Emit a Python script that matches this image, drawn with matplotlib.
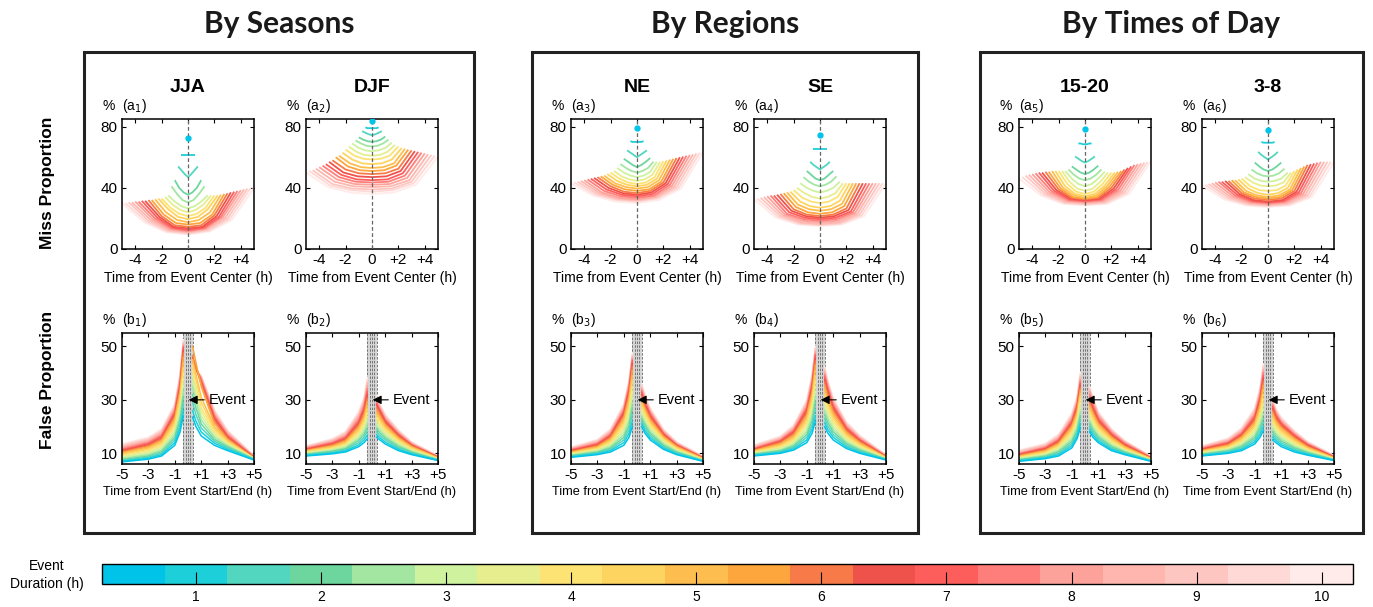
import numpy as np
import matplotlib
matplotlib.use('Agg')
import matplotlib.pyplot as plt
from matplotlib.colors import ListedColormap, BoundaryNorm
from matplotlib.patches import Rectangle
import matplotlib.colorbar as mcb

plt.rcParams['font.family'] = ['Liberation Sans', 'DejaVu Sans']

W, H = 1373, 607

# event durations (h) and their colours
durations = [0.5, 1, 1.5, 2, 2.5, 3, 3.5, 4, 4.5, 5,
             5.5, 6, 6.5, 7, 7.5, 8, 8.5, 9, 9.5, 10]
colors = ['#00c3ea', '#1ccfd9', '#52d6c0', '#6dd69e', '#a2e6a2',
          '#cef29e', '#e6ee8e', '#fde374', '#fed461', '#fdbe4f',
          '#fca63d', '#f77a48', '#ef524b', '#fd5e5c', '#fd7e7a',
          '#fda29b', '#feb6ae', '#fec6c1', '#fed9d5', '#ffebe9']

# miss curves: values at fractions of the half-duration
miss_frac = [-1, -2/3, -1/3, 0, 1/3, 2/3, 1]
# false curves: hours before event start / after event end
before_t = [-5, -3, -2, -1, -0.6, -0.35]
after_t = [0.35, 0.6, 1, 2, 3, 5]

miss_jja = [
    [72.5, 72.5, 72.5, 72.5, 72.5, 72.5, 72.5],
    [61.5, 61.5, 61.5, 61.5, 61.5, 61.5, 61.5],
    [54, 51.5, 49, 47, 49, 51.5, 54],
    [45, 40, 37, 35.5, 37, 40, 45],
    [41, 36, 32, 30.5, 32, 36, 41],
    [35, 31, 28, 26.5, 28, 31, 35],
    [34, 29, 25.5, 24, 25.5, 29, 35],
    [33, 27, 23, 21.5, 23, 27, 35],
    [33, 26, 21, 19.5, 21, 26, 35],
    [32.5, 24, 19, 17.5, 19, 24, 35.5],
    [32, 22.5, 17, 16, 17, 22.5, 36],
    [32, 21.5, 15.5, 14.5, 15.5, 22, 36.5],
    [31.5, 21, 14.5, 13.5, 14.5, 21.5, 37],
    [31.5, 20.5, 14, 12.5, 14, 21, 37.5],
    [31, 20, 13.5, 12, 13.5, 21, 38],
    [31, 19.5, 13, 11.5, 13.5, 21, 38.5],
    [30.5, 19, 12.5, 11, 13, 20.5, 39],
    [30.5, 18.5, 12, 10.5, 12.5, 20, 39.5],
    [30, 18, 11.5, 10, 12, 19.5, 40],
    [30, 17.5, 11, 9.5, 11.5, 19, 40],
]
miss_djf = [
    [83.5, 83.5, 83.5, 83.5, 83.5, 83.5, 83.5],
    [79.5, 79, 79, 79, 79, 79, 79.5],
    [77, 76, 75, 74.5, 75, 76, 77],
    [73, 71.5, 70.5, 70, 70.5, 71.5, 73.5],
    [71, 69, 67.5, 67, 67.5, 69, 71.5],
    [69, 66, 64.5, 64, 64.5, 66, 69.5],
    [67, 63.5, 61.5, 61, 61.5, 63.5, 68],
    [65, 61, 59, 58.5, 59, 61, 67],
    [63, 58.5, 56, 55.5, 56, 58.5, 66],
    [61, 56, 53.5, 53, 53.5, 56, 65.5],
    [60, 54, 51.5, 51, 51.5, 54.5, 65],
    [58, 52, 49.5, 49, 49.5, 52.5, 64.5],
    [57, 50, 47.5, 47, 47.5, 51, 64],
    [55.5, 48.5, 45.5, 45, 45.5, 49.5, 63.5],
    [54.5, 47, 44, 43.5, 44, 48, 63],
    [53.5, 45.5, 42.5, 42, 42.5, 46.5, 62.5],
    [52.5, 44, 41, 40.5, 41, 45, 62],
    [51.5, 42.5, 39.5, 39, 39.5, 44, 61.5],
    [51, 41.5, 38.5, 37.5, 38.5, 43, 61],
    [50, 40.5, 37, 36, 37, 42, 60.5],
]
miss_ne = [
    [79, 79, 79, 79, 79, 79, 79],
    [70.5, 70, 70, 70, 70, 70, 70.5],
    [64.5, 63, 61.5, 60, 61.5, 63, 64.5],
    [59, 57, 55, 53.5, 55, 57, 59.5],
    [55.5, 53, 51, 50, 51, 53, 57],
    [53, 50, 48, 47, 48, 50.5, 57],
    [51, 47.5, 45.5, 44.5, 45.5, 48.5, 57],
    [50, 46, 43.5, 42.5, 43.5, 47, 57.5],
    [49, 44.5, 42, 41, 42, 46, 58],
    [48, 43, 40.5, 39.5, 40.5, 45, 58.5],
    [47.5, 42, 39, 38, 39, 44, 59],
    [47, 41, 37.5, 36.5, 38, 43.5, 59.5],
    [46.5, 40, 36.5, 35.5, 37, 43, 60],
    [46, 39, 35.5, 34.5, 36, 42.5, 60.5],
    [45.5, 38, 34.5, 33.5, 35, 42, 61],
    [45, 37, 33.5, 32.5, 34.5, 41.5, 61.5],
    [44.5, 36.5, 33, 32, 34, 41, 62],
    [44, 36, 32.5, 31.5, 33.5, 40.5, 62.5],
    [43.5, 35.5, 32, 31, 33, 40, 63],
    [43, 35, 31, 30, 32, 39.5, 63.5],
]
miss_se = [
    [74.5, 74.5, 74.5, 74.5, 74.5, 74.5, 74.5],
    [65.5, 65.5, 65.5, 65.5, 65.5, 65.5, 65.5],
    [57, 55, 53.5, 52, 53.5, 55, 57],
    [51, 48.5, 46, 45, 46, 48.5, 51],
    [47, 44, 42, 41, 42, 44, 47.5],
    [43, 40, 38, 37, 38, 40, 44],
    [40, 36.5, 34, 33, 34, 36.5, 43],
    [38.5, 33.5, 31, 30, 31, 34, 43],
    [37.5, 31, 28, 27, 28, 31.5, 43],
    [37, 29, 26, 25, 26, 29.5, 43],
    [36.5, 27.5, 24, 23, 24, 28, 43],
    [36, 26, 22.5, 21.5, 22.5, 26.5, 43],
    [35.5, 25, 21.5, 20.5, 21.5, 25.5, 43],
    [35, 24, 20.5, 19.5, 20.5, 24.5, 43],
    [35, 23, 19.5, 18.5, 19.5, 24, 43],
    [34.5, 22.5, 18.5, 17.5, 18.5, 23.5, 43],
    [34, 22, 17.5, 16.5, 17.5, 23, 43],
    [33.5, 21.5, 17, 16, 17, 22.5, 43],
    [33, 21, 16.5, 15.5, 16.5, 22, 43],
    [32.5, 20.5, 16, 15, 16, 21.5, 43],
]
miss_1520 = [
    [78.5, 78.5, 78.5, 78.5, 78.5, 78.5, 78.5],
    [69, 69, 68.5, 68.5, 68.5, 69, 69],
    [60.5, 59, 57.5, 56.5, 57.5, 59, 60.5],
    [54, 52, 50, 49, 50, 52, 54.5],
    [52, 48.5, 46, 45, 46, 48.5, 52],
    [51, 46, 42.5, 41, 42.5, 46, 50.5],
    [51, 44, 39.5, 38, 39.5, 44, 50],
    [51, 42.5, 37.5, 36, 37.5, 42.5, 50],
    [51, 41, 36, 34.5, 36, 41.5, 50],
    [51, 40, 35, 33.5, 35, 41, 50.5],
    [50.5, 39.5, 34, 33, 34, 40.5, 51],
    [50.5, 39, 33.5, 32.5, 33.5, 40, 52],
    [50, 38.5, 33, 32, 33, 39.5, 53],
    [50, 38, 32.5, 31.5, 32.5, 39, 54],
    [49.5, 37.5, 32, 31, 32, 38.5, 55],
    [49, 37, 31.5, 30.5, 31.5, 38, 55.5],
    [48.5, 36.5, 31, 30, 31, 37.5, 56],
    [48, 36, 30.5, 29.5, 30.5, 37, 56.5],
    [47, 35.5, 30, 29, 30, 36.5, 57],
    [46, 35, 29.5, 28.5, 29.5, 36, 57.5],
]
miss_38 = [
    [77.5, 77.5, 77.5, 77.5, 77.5, 77.5, 77.5],
    [70, 69.5, 69.5, 69.5, 69.5, 69.5, 70],
    [63.5, 61.5, 60, 58.5, 60, 61.5, 63.5],
    [56.5, 54, 52, 51, 52, 54, 56.5],
    [52, 49.5, 48, 47.5, 48, 49.5, 52.5],
    [49, 46, 44.5, 44, 44.5, 46, 50],
    [47, 43.5, 41.5, 41, 41.5, 43.5, 50],
    [46, 41, 38.5, 38, 38.5, 41.5, 51],
    [45.5, 39.5, 36.5, 35.5, 36.5, 40, 52],
    [45, 38, 35, 34, 35, 39, 53],
    [45, 37, 34, 33, 34, 38.5, 54],
    [44.5, 36.5, 33, 32, 33, 38, 55],
    [44.5, 36, 32, 31, 32, 37.5, 55.5],
    [44, 35.5, 31.5, 30.5, 31.5, 37, 56],
    [44, 35, 31, 30, 31, 36.5, 56.5],
    [43.5, 34.5, 30.5, 29.5, 30.5, 36, 57],
    [43, 34, 30, 29, 30, 35.5, 57],
    [42.5, 33.5, 29.5, 28.5, 29.5, 35, 57],
    [42, 33, 29, 28, 29, 34.5, 57],
    [41.5, 32.5, 28.5, 27.5, 28.5, 34, 57],
]

false_jja_before = [
    [6.8, 7.8, 9.0, 13.0, 18.0, 24.0],
    [7.0, 8.2, 9.5, 14.0, 19.5, 26.0],
    [7.3, 8.6, 10.0, 15.0, 21.0, 28.5],
    [7.6, 9.0, 10.6, 16.0, 22.5, 31.0],
    [8.0, 9.5, 11.2, 17.0, 24.0, 33.0],
    [8.4, 10.0, 11.8, 18.0, 25.5, 35.5],
    [8.8, 10.5, 12.4, 19.0, 27.0, 38.0],
    [9.2, 11.0, 13.0, 20.0, 28.5, 40.0],
    [9.6, 11.5, 13.6, 21.0, 30.0, 42.0],
    [10.0, 12.0, 14.2, 22.0, 31.5, 44.0],
    [10.3, 12.4, 14.8, 23.0, 33.0, 46.0],
    [10.6, 12.8, 15.3, 23.8, 34.0, 47.5],
    [10.9, 13.2, 15.8, 24.5, 35.0, 48.5],
    [11.2, 13.6, 16.3, 25.2, 36.0, 49.5],
    [11.6, 14.0, 16.8, 25.8, 36.8, 50.0],
    [12.0, 14.4, 17.3, 26.4, 37.5, 50.5],
    [12.4, 14.8, 17.8, 27.0, 38.2, 51.0],
    [12.8, 15.2, 18.3, 27.5, 38.8, 51.5],
    [13.2, 15.6, 18.7, 28.0, 39.4, 52.0],
    [13.6, 16.0, 19.2, 28.5, 40.0, 52.5],
]
false_jja_after = [
    [23.5, 20.0, 16.5, 13.0, 11.0, 7.5],
    [26.0, 22.0, 18.0, 13.8, 11.5, 7.6],
    [29.0, 24.5, 19.5, 14.5, 12.0, 7.7],
    [32.0, 27.0, 21.0, 15.2, 12.4, 7.8],
    [35.0, 29.5, 22.5, 16.0, 12.8, 7.9],
    [37.0, 31.5, 24.0, 16.8, 13.2, 8.0],
    [39.0, 33.5, 25.5, 17.5, 13.6, 8.0],
    [41.0, 35.5, 27.0, 18.3, 14.0, 8.1],
    [43.0, 37.5, 29.0, 19.0, 14.4, 8.1],
    [45.0, 39.5, 31.0, 19.8, 14.8, 8.2],
    [50.0, 44.0, 35.0, 21.0, 15.2, 7.8],
    [46.5, 42.0, 36.0, 22.0, 15.6, 8.3],
    [46.0, 42.0, 36.5, 22.8, 16.0, 8.4],
    [45.5, 42.0, 37.0, 23.5, 16.4, 8.5],
    [45.0, 42.0, 37.5, 24.0, 16.8, 8.6],
    [44.5, 41.5, 38.0, 24.5, 17.2, 8.7],
    [44.0, 41.5, 38.5, 25.0, 17.6, 8.8],
    [43.5, 41.0, 38.5, 25.5, 18.0, 8.9],
    [43.0, 41.0, 39.0, 26.0, 18.3, 9.0],
    [42.5, 40.5, 39.0, 26.5, 18.6, 9.1],
]
false_djf_before = [
    [9.0, 9.8, 10.5, 12.5, 14.0, 15.5],
    [9.2, 10.1, 10.9, 13.2, 15.0, 16.8],
    [9.4, 10.4, 11.3, 14.0, 16.0, 18.2],
    [9.6, 10.7, 11.7, 14.8, 17.0, 19.6],
    [9.8, 11.0, 12.1, 15.5, 18.0, 21.0],
    [10.0, 11.3, 12.5, 16.2, 19.0, 22.4],
    [10.2, 11.6, 12.9, 17.0, 20.0, 23.8],
    [10.4, 11.9, 13.3, 17.7, 21.0, 25.2],
    [10.6, 12.2, 13.7, 18.4, 22.0, 26.6],
    [10.8, 12.5, 14.1, 19.1, 23.0, 28.0],
    [11.0, 12.8, 14.6, 19.8, 24.0, 29.4],
    [11.2, 13.1, 15.0, 20.5, 25.0, 30.6],
    [11.4, 13.4, 15.4, 21.2, 26.0, 31.8],
    [11.6, 13.7, 15.8, 21.9, 26.8, 33.0],
    [11.8, 14.0, 16.2, 22.6, 27.6, 34.0],
    [12.0, 14.3, 16.6, 23.3, 28.4, 35.0],
    [12.2, 14.6, 17.0, 24.0, 29.2, 36.0],
    [12.4, 14.9, 17.4, 24.6, 29.8, 36.8],
    [12.6, 15.2, 17.8, 25.2, 30.4, 37.6],
    [12.8, 15.5, 18.2, 25.8, 31.0, 38.4],
]
false_djf_after = [
    [16.0, 15.0, 13.5, 11.0, 9.5, 7.3],
    [17.0, 15.8, 14.2, 11.5, 9.8, 7.4],
    [18.0, 16.7, 15.0, 12.0, 10.1, 7.5],
    [19.0, 17.6, 15.7, 12.5, 10.4, 7.6],
    [20.0, 18.5, 16.4, 13.0, 10.7, 7.7],
    [21.0, 19.4, 17.1, 13.5, 11.0, 7.8],
    [22.0, 20.3, 17.8, 14.0, 11.3, 7.9],
    [23.0, 21.2, 18.5, 14.5, 11.6, 8.0],
    [24.0, 22.1, 19.2, 15.0, 11.9, 8.1],
    [25.0, 23.0, 19.9, 15.4, 12.2, 8.2],
    [26.0, 23.8, 20.5, 15.8, 12.5, 8.3],
    [27.0, 24.6, 21.1, 16.2, 12.7, 8.4],
    [28.0, 25.4, 21.7, 16.6, 12.9, 8.5],
    [28.5, 26.0, 22.2, 17.0, 13.1, 8.6],
    [29.0, 26.4, 22.6, 17.3, 13.3, 8.6],
    [29.5, 26.8, 23.0, 17.6, 13.5, 8.7],
    [30.0, 27.2, 23.4, 17.9, 13.7, 8.8],
    [30.5, 27.6, 23.8, 18.2, 13.9, 8.9],
    [31.0, 28.0, 24.2, 18.5, 14.1, 9.0],
    [31.5, 28.4, 24.6, 18.8, 14.3, 9.1],
]
false_ne_before = [
    [8.5, 9.5, 10.5, 13.0, 16.0, 20.0],
    [8.7, 9.8, 11.0, 14.0, 17.5, 22.0],
    [8.9, 10.1, 11.5, 15.0, 19.0, 24.5],
    [9.1, 10.4, 12.0, 16.0, 20.5, 27.0],
    [9.3, 10.7, 12.5, 17.0, 22.0, 29.0],
    [9.5, 11.0, 13.0, 18.0, 23.5, 31.0],
    [9.7, 11.3, 13.5, 19.0, 25.0, 33.0],
    [9.9, 11.6, 14.0, 20.0, 26.5, 35.0],
    [10.1, 11.9, 14.5, 21.0, 28.0, 37.0],
    [10.3, 12.2, 15.0, 22.0, 29.5, 39.0],
    [10.5, 12.5, 15.5, 23.0, 31.0, 41.0],
    [10.7, 12.8, 16.0, 24.0, 32.0, 42.5],
    [10.9, 13.1, 16.4, 24.8, 33.0, 43.5],
    [11.1, 13.4, 16.8, 25.5, 34.0, 44.5],
    [11.3, 13.7, 17.2, 26.0, 34.8, 45.0],
    [11.5, 14.0, 17.6, 26.5, 35.5, 45.5],
    [11.7, 14.3, 18.0, 27.0, 36.0, 46.0],
    [11.9, 14.6, 18.4, 27.5, 36.5, 46.5],
    [12.1, 14.9, 18.8, 28.0, 37.0, 47.0],
    [12.3, 15.2, 19.2, 28.5, 37.5, 47.5],
]
false_ne_after = [
    [20.0, 17.5, 15.0, 11.5, 9.5, 7.0],
    [21.0, 18.5, 15.8, 12.0, 9.8, 7.1],
    [22.0, 19.5, 16.6, 12.5, 10.1, 7.2],
    [23.0, 20.5, 17.4, 13.0, 10.4, 7.3],
    [24.0, 21.4, 18.2, 13.5, 10.7, 7.4],
    [25.0, 22.3, 19.0, 14.0, 11.0, 7.5],
    [26.0, 23.2, 19.7, 14.5, 11.3, 7.6],
    [27.0, 24.1, 20.4, 15.0, 11.6, 7.7],
    [28.0, 25.0, 21.1, 15.4, 11.9, 7.8],
    [29.0, 25.8, 21.8, 15.8, 12.2, 7.9],
    [30.0, 26.6, 22.5, 16.2, 12.5, 8.0],
    [31.0, 27.4, 23.2, 16.6, 12.7, 8.1],
    [32.0, 28.2, 23.8, 17.0, 12.9, 8.2],
    [32.8, 28.9, 24.4, 17.3, 13.1, 8.3],
    [33.5, 29.5, 25.0, 17.6, 13.3, 8.4],
    [34.0, 30.0, 25.4, 17.9, 13.5, 8.5],
    [34.5, 30.5, 25.8, 18.2, 13.7, 8.6],
    [35.0, 31.0, 26.2, 18.5, 13.9, 8.7],
    [35.5, 31.5, 26.6, 18.8, 14.1, 8.8],
    [36.0, 32.0, 27.0, 19.1, 14.3, 8.9],
]
false_se_before = [
    [9.0, 10.0, 11.2, 14.0, 17.5, 22.0],
    [9.2, 10.3, 11.7, 15.0, 19.0, 24.0],
    [9.4, 10.6, 12.2, 16.0, 20.5, 26.5],
    [9.6, 10.9, 12.7, 17.0, 22.0, 29.0],
    [9.8, 11.2, 13.2, 18.0, 23.5, 31.0],
    [10.0, 11.6, 13.7, 19.0, 25.0, 33.0],
    [10.2, 12.0, 14.2, 20.0, 26.5, 35.0],
    [10.4, 12.4, 14.8, 21.0, 28.0, 37.0],
    [10.6, 12.8, 15.4, 22.0, 29.5, 39.0],
    [10.8, 13.2, 16.0, 23.0, 31.0, 41.0],
    [11.0, 13.6, 16.6, 24.0, 32.5, 43.0],
    [11.2, 14.0, 17.2, 25.0, 33.5, 44.5],
    [11.4, 14.3, 17.7, 25.8, 34.5, 45.5],
    [11.6, 14.6, 18.2, 26.5, 35.5, 46.5],
    [11.8, 14.9, 18.6, 27.2, 36.3, 47.2],
    [12.0, 15.2, 19.0, 27.8, 37.0, 47.8],
    [12.3, 15.5, 19.4, 28.4, 37.7, 48.4],
    [12.6, 15.8, 19.8, 29.0, 38.4, 49.0],
    [12.9, 16.1, 20.2, 29.5, 39.0, 49.5],
    [13.2, 16.4, 20.6, 30.0, 39.6, 50.0],
]
false_se_after = [
    [20.0, 17.5, 15.0, 11.8, 10.0, 7.5],
    [21.5, 18.8, 16.0, 12.4, 10.4, 7.6],
    [23.0, 20.1, 17.0, 13.0, 10.8, 7.7],
    [24.5, 21.4, 18.0, 13.6, 11.2, 7.8],
    [26.0, 22.7, 19.0, 14.2, 11.6, 7.9],
    [27.5, 24.0, 20.0, 14.8, 12.0, 8.0],
    [29.0, 25.3, 21.0, 15.4, 12.4, 8.1],
    [30.5, 26.6, 22.0, 16.0, 12.8, 8.2],
    [32.0, 27.9, 23.0, 16.6, 13.2, 8.3],
    [33.5, 29.2, 24.0, 17.2, 13.6, 8.4],
    [35.0, 30.5, 25.0, 17.8, 14.0, 8.5],
    [36.5, 31.8, 26.0, 18.4, 14.4, 8.6],
    [37.5, 32.8, 26.8, 18.9, 14.7, 8.7],
    [38.5, 33.6, 27.5, 19.4, 15.0, 8.8],
    [39.3, 34.4, 28.2, 19.8, 15.3, 8.9],
    [40.0, 35.0, 28.8, 20.2, 15.6, 9.0],
    [40.7, 35.6, 29.3, 20.6, 15.9, 9.1],
    [41.3, 36.2, 29.8, 21.0, 16.2, 9.2],
    [41.9, 36.7, 30.3, 21.4, 16.5, 9.3],
    [42.5, 37.2, 30.8, 21.8, 16.8, 9.4],
]
false_1520_before = [
    [7.0, 8.0, 9.0, 12.0, 15.5, 19.5],
    [7.2, 8.3, 9.5, 12.8, 16.5, 21.0],
    [7.4, 8.6, 10.0, 13.6, 17.5, 22.5],
    [7.6, 8.9, 10.5, 14.4, 18.5, 24.0],
    [7.8, 9.2, 11.0, 15.2, 19.5, 25.5],
    [8.0, 9.5, 11.5, 16.0, 20.5, 27.0],
    [8.2, 9.8, 12.0, 16.8, 21.5, 28.5],
    [8.4, 10.1, 12.4, 17.6, 22.5, 30.0],
    [8.6, 10.4, 12.8, 18.4, 23.5, 31.2],
    [8.8, 10.7, 13.2, 19.2, 24.5, 32.4],
    [9.0, 11.0, 13.6, 19.9, 25.4, 33.5],
    [9.2, 11.3, 14.0, 20.6, 26.2, 34.5],
    [9.4, 11.6, 14.4, 21.2, 27.0, 35.4],
    [9.6, 11.9, 14.8, 21.8, 27.7, 36.2],
    [9.8, 12.2, 15.2, 22.4, 28.4, 37.0],
    [10.0, 12.5, 15.6, 23.0, 29.0, 37.7],
    [10.3, 12.8, 16.0, 23.5, 29.6, 38.4],
    [10.6, 13.1, 16.4, 24.0, 30.2, 39.0],
    [10.9, 13.4, 16.8, 24.5, 30.8, 39.6],
    [11.2, 13.7, 17.2, 25.0, 31.4, 40.2],
]
false_1520_after = [
    [18.0, 16.0, 14.0, 11.0, 9.5, 7.0],
    [19.0, 16.9, 14.7, 11.5, 9.8, 7.1],
    [20.0, 17.8, 15.4, 12.0, 10.1, 7.2],
    [21.0, 18.7, 16.1, 12.5, 10.4, 7.3],
    [22.0, 19.6, 16.8, 13.0, 10.7, 7.4],
    [23.0, 20.5, 17.5, 13.5, 11.0, 7.5],
    [24.0, 21.4, 18.2, 14.0, 11.3, 7.6],
    [25.0, 22.3, 18.9, 14.5, 11.6, 7.7],
    [26.0, 23.2, 19.6, 15.0, 11.9, 7.8],
    [27.0, 24.1, 20.3, 15.5, 12.2, 7.9],
    [28.0, 25.0, 21.0, 16.0, 12.5, 8.0],
    [29.0, 25.8, 21.6, 16.4, 12.8, 8.1],
    [30.0, 26.6, 22.2, 16.8, 13.1, 8.2],
    [31.0, 27.4, 22.8, 17.2, 13.4, 8.3],
    [32.0, 28.2, 23.4, 17.6, 13.7, 8.4],
    [33.0, 29.0, 24.0, 18.0, 14.0, 8.5],
    [33.5, 29.5, 24.4, 18.3, 14.2, 8.6],
    [34.0, 30.0, 24.8, 18.6, 14.4, 8.7],
    [34.5, 30.5, 25.2, 18.9, 14.6, 8.8],
    [35.0, 31.0, 25.6, 19.2, 14.8, 8.9],
]
false_38_before = [
    [9.0, 10.0, 11.0, 13.5, 16.0, 18.5],
    [9.2, 10.3, 11.5, 14.3, 17.2, 20.0],
    [9.4, 10.6, 12.0, 15.1, 18.4, 21.5],
    [9.6, 10.9, 12.5, 15.9, 19.6, 23.0],
    [9.8, 11.2, 13.0, 16.7, 20.8, 24.8],
    [10.0, 11.5, 13.5, 17.5, 22.0, 26.6],
    [10.2, 11.8, 14.0, 18.3, 23.2, 28.4],
    [10.4, 12.1, 14.5, 19.1, 24.4, 30.2],
    [10.6, 12.4, 15.0, 19.9, 25.6, 32.0],
    [10.8, 12.7, 15.5, 20.7, 26.8, 33.8],
    [11.0, 13.0, 16.0, 21.5, 28.0, 35.4],
    [11.2, 13.3, 16.4, 22.2, 29.0, 36.8],
    [11.4, 13.6, 16.8, 22.9, 30.0, 38.0],
    [11.6, 13.9, 17.2, 23.6, 30.8, 39.0],
    [11.8, 14.2, 17.6, 24.2, 31.6, 40.0],
    [12.0, 14.5, 18.0, 24.8, 32.3, 40.8],
    [12.2, 14.8, 18.4, 25.4, 33.0, 41.5],
    [12.4, 15.1, 18.8, 26.0, 33.6, 42.2],
    [12.6, 15.4, 19.2, 26.5, 34.2, 42.8],
    [12.8, 15.7, 19.6, 27.0, 34.8, 43.4],
]
false_38_after = [
    [15.0, 14.0, 12.5, 10.5, 9.3, 7.3],
    [16.0, 14.8, 13.2, 11.0, 9.6, 7.4],
    [17.0, 15.6, 13.9, 11.5, 9.9, 7.5],
    [18.0, 16.4, 14.6, 12.0, 10.2, 7.6],
    [19.0, 17.2, 15.3, 12.5, 10.5, 7.7],
    [20.0, 18.0, 16.0, 13.0, 10.8, 7.8],
    [21.0, 18.8, 16.7, 13.5, 11.1, 7.9],
    [22.0, 19.6, 17.4, 14.0, 11.4, 8.0],
    [23.0, 20.4, 18.1, 14.5, 11.7, 8.1],
    [24.0, 21.2, 18.8, 15.0, 12.0, 8.2],
    [25.0, 22.0, 19.5, 15.5, 12.3, 8.3],
    [26.0, 22.8, 20.1, 15.9, 12.6, 8.4],
    [26.8, 23.5, 20.6, 16.3, 12.9, 8.5],
    [27.5, 24.1, 21.1, 16.7, 13.2, 8.6],
    [28.0, 24.6, 21.5, 17.0, 13.4, 8.7],
    [28.5, 25.1, 21.9, 17.3, 13.6, 8.8],
    [29.0, 25.5, 22.3, 17.6, 13.8, 8.9],
    [29.5, 25.9, 22.7, 17.9, 14.0, 9.0],
    [30.0, 26.3, 23.1, 18.2, 14.2, 9.1],
    [30.5, 26.7, 23.5, 18.5, 14.4, 9.2],
]

panel_titles = ['JJA', 'DJF', 'NE', 'SE', '15-20', '3-8']
miss_tables = [miss_jja, miss_djf, miss_ne, miss_se, miss_1520, miss_38]
false_before = [false_jja_before, false_djf_before, false_ne_before,
                false_se_before, false_1520_before, false_38_before]
false_after = [false_jja_after, false_djf_after, false_ne_after,
               false_se_after, false_1520_after, false_38_after]
group_titles = ['By Seasons', 'By Regions', 'By Times of Day']


def fpos(l, t, r, b):
    return [l / W, 1 - b / H, (r - l) / W, (b - t) / H]


fig = plt.figure(figsize=(W / 100, H / 100), dpi=100)

lefts = [122, 306, 571, 754, 1019, 1202]
aw = 132
boxes = [(84, 474), (532, 918), (980, 1363)]

for i in range(6):
    l = lefts[i]
    # --- miss proportion ---
    ax = fig.add_axes(fpos(l, 119, l + aw, 249))
    for d, row, c in reversed(list(zip(durations, miss_tables[i], colors))):
        if d == 0.5:
            ax.plot([0], [row[3]], 'o', color=c, ms=3.5, zorder=4)
        else:
            t = [f * d / 2 for f in miss_frac]
            ax.plot(t, row, color=c, lw=1.3, solid_capstyle='butt')
    ax.axvline(0, color='0.4', ls=(0, (3, 2)), lw=0.9, zorder=3)
    ax.set_xlim(-5, 5)
    ax.set_ylim(0, 85)
    ax.set_xticks([-4, -2, 0, 2, 4])
    ax.set_xticklabels(['-4', '-2', '0', '+2', '+4'])
    ax.set_yticks([0, 40, 80])
    ax.set_xlabel('Time from Event Center (h)', fontsize=10, labelpad=3)
    ax.tick_params(direction='in', top=True, right=True, length=3,
                   labelsize=11, width=0.8, pad=3)
    for s in ax.spines.values():
        s.set_linewidth(1.1)
    ax.text(-0.15, 1.03, '%  (a$_' + str(i + 1) + '$)',
            transform=ax.transAxes, fontsize=10, ha='left', va='bottom')
    fig.text((l + aw / 2) / W, 1 - 88 / H, panel_titles[i], fontsize=14,
             fontweight='bold', ha='center', va='center')

    # --- false proportion ---
    bx = fig.add_axes(fpos(l, 333, l + aw, 464))
    bx.axvspan(-0.35, 0.35, color='#d4d4d4', lw=0, zorder=0)
    for xv in [-0.35, -0.175, 0, 0.175, 0.35]:
        bx.axvline(xv, color='0.45', ls=(0, (2.5, 1.5)), lw=0.7, zorder=1)
    rows = list(zip(durations, false_before[i], false_after[i], colors))
    for d, rb, ra, c in reversed(rows):
        bx.plot(before_t, rb, color=c, lw=1.1, zorder=2)
        bx.plot(after_t, ra, color=c, lw=1.1, zorder=2)
    bx.annotate('Event', xy=(0.05, 30), xytext=(1.55, 30), fontsize=10.5,
                va='center', ha='left', zorder=5,
                arrowprops=dict(arrowstyle='-|>', color='k', lw=0.8,
                                mutation_scale=13, shrinkA=1, shrinkB=0))
    bx.set_xlim(-5, 5)
    bx.set_ylim(6, 55)
    bx.set_xticks([-5, -3, -1, 1, 3, 5])
    bx.set_xticklabels(['-5', '-3', '-1', '+1', '+3', '+5'])
    bx.set_yticks([10, 30, 50])
    bx.set_xlabel('Time from Event Start/End (h)', fontsize=9.2, labelpad=3)
    bx.tick_params(direction='in', top=True, right=True, length=3,
                   labelsize=11, width=0.8, pad=3)
    for s in bx.spines.values():
        s.set_linewidth(1.1)
    bx.text(-0.15, 1.03, '%  (b$_' + str(i + 1) + '$)',
            transform=bx.transAxes, fontsize=10, ha='left', va='bottom')

# group boxes and titles
for (bl, br), title in zip(boxes, group_titles):
    fig.patches.append(Rectangle((bl / W, 1 - 533 / H), (br - bl) / W,
                                 (533 - 52) / H, transform=fig.transFigure,
                                 fill=False, lw=2.2, ec='#222222'))
    fig.text((bl + br) / 2 / W, 1 - 24 / H, title, fontsize=21.5,
             fontweight='bold', family=['Lato', 'DejaVu Sans'],
             ha='center', va='center', color='#1a1a1a')

fig.text(48 / W, 1 - 183 / H, 'Miss Proportion', rotation=90, fontsize=12.5,
         fontweight='bold', ha='center', va='center')
fig.text(48 / W, 1 - 380 / H, 'False Proportion', rotation=90, fontsize=12.5,
         fontweight='bold', ha='center', va='center')

# colour bar
cax = fig.add_axes(fpos(102, 564, 1353, 584))
cmap = ListedColormap(colors)
bounds = [d - 0.25 for d in durations] + [durations[-1] + 0.25]
norm = BoundaryNorm(bounds, cmap.N)
cb = mcb.ColorbarBase(cax, cmap=cmap, norm=norm, orientation='horizontal',
                      ticks=list(range(1, 11)))
cb.minorticks_off()
cb.outline.set_linewidth(1.0)
cax.tick_params(which='both', direction='in', length=9, width=0.8,
                labelsize=10, pad=4)
cax.tick_params(which='minor', length=0)
fig.text(47 / W, 1 - 575 / H, 'Event\nDuration (h)', fontsize=10,
         ha='center', va='center', linespacing=1.3)

fig.savefig('out.png', dpi=100)
